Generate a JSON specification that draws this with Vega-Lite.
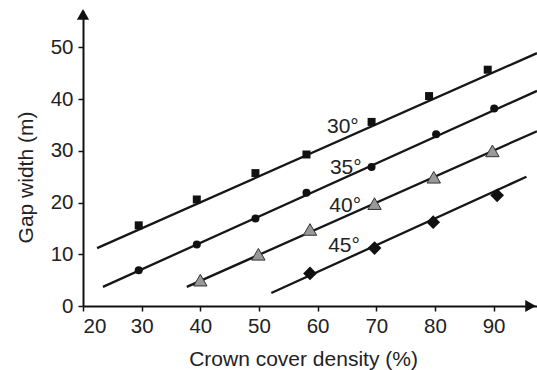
{
  "$schema": "https://vega.github.io/schema/vega-lite/v6.json",
  "width": 454,
  "height": 295,
  "autosize": {"type": "none"},
  "padding": {"left": 83, "top": 11, "right": 0, "bottom": 64},
  "background": "white",
  "config": {
    "view": {"stroke": null},
    "font": "Liberation Sans",
    "axis": {
      "grid": false,
      "domainColor": "#111",
      "domainWidth": 2,
      "tickColor": "#111",
      "tickWidth": 1.5,
      "tickSize": 5,
      "labelFontSize": 20.5,
      "labelColor": "#222",
      "labelFont": "Liberation Sans",
      "labelPadding": 5,
      "titleFont": "Liberation Sans",
      "titleFontSize": 21,
      "titleFontWeight": "normal",
      "titleColor": "#222"
    }
  },
  "datasets": {
    "pts": [
      {"angle": "30", "x": 29.5, "y": 15.6},
      {"angle": "30", "x": 39.4, "y": 20.6},
      {"angle": "30", "x": 49.4, "y": 25.7},
      {"angle": "30", "x": 58.1, "y": 29.3},
      {"angle": "30", "x": 69.2, "y": 35.6},
      {"angle": "30", "x": 79.0, "y": 40.6},
      {"angle": "30", "x": 89.0, "y": 45.7},
      {"angle": "35", "x": 29.5, "y": 6.9},
      {"angle": "35", "x": 39.4, "y": 11.9},
      {"angle": "35", "x": 49.4, "y": 16.9},
      {"angle": "35", "x": 58.1, "y": 21.9},
      {"angle": "35", "x": 69.2, "y": 26.9},
      {"angle": "35", "x": 80.2, "y": 33.2},
      {"angle": "35", "x": 90.1, "y": 38.2},
      {"angle": "40", "x": 40.0, "y": 5.0},
      {"angle": "40", "x": 49.9, "y": 10.0},
      {"angle": "40", "x": 58.7, "y": 14.8},
      {"angle": "40", "x": 69.7, "y": 19.8},
      {"angle": "40", "x": 79.8, "y": 24.9},
      {"angle": "40", "x": 89.8, "y": 30.0},
      {"angle": "45", "x": 58.7, "y": 6.3},
      {"angle": "45", "x": 69.7, "y": 11.2},
      {"angle": "45", "x": 79.7, "y": 16.2},
      {"angle": "45", "x": 90.6, "y": 21.4}
    ],
    "lines": [
      {"angle": "30", "x": 22.4, "y": 11.2, "x2": 97.4, "y2": 48.9},
      {"angle": "35", "x": 23.4, "y": 3.7, "x2": 97.4, "y2": 41.6},
      {"angle": "40", "x": 37.7, "y": 3.7, "x2": 97.4, "y2": 33.8},
      {"angle": "45", "x": 52.1, "y": 2.5, "x2": 95.6, "y2": 25.0}
    ],
    "labels": [
      {"label": "30°", "x": 64.3, "y": 33.4},
      {"label": "35°", "x": 64.8, "y": 25.6},
      {"label": "40°", "x": 64.7, "y": 18.1},
      {"label": "45°", "x": 64.5, "y": 10.4}
    ],
    "arrows": [
      {"dir": "right", "x": 96.3, "y": 0},
      {"dir": "up", "x": 20, "y": 56.4}
    ]
  },
  "layer": [
    {
      "data": {"name": "lines"},
      "mark": {"type": "rule", "color": "#161616", "strokeWidth": 2.3},
      "encoding": {
        "x": {
          "field": "x", "type": "quantitative",
          "scale": {"domain": [20, 97.4], "nice": false, "zero": false},
          "axis": {
            "values": [20, 30, 40, 50, 60, 70, 80, 90],
            "title": "Crown cover density (%)",
            "titleX": 220, "titleY": 59, "titleBaseline": "alphabetic", "titleAlign": "center",
            "labelPadding": 5
          }
        },
        "y": {
          "field": "y", "type": "quantitative",
          "scale": {"domain": [0, 57.05], "nice": false, "zero": false},
          "axis": {
            "values": [0, 10, 20, 30, 40, 50],
            "title": "Gap width (m)",
            "titleX": -51, "titleY": 166, "titleAngle": -90, "titleAlign": "center", "titleBaseline": "alphabetic"
          }
        },
        "x2": {"field": "x2"},
        "y2": {"field": "y2"}
      }
    },
    {
      "data": {"name": "pts"},
      "transform": [{"filter": "datum.angle === '30'"}],
      "mark": {"type": "point", "shape": "square", "filled": true, "color": "#111", "opacity": 1, "size": 64},
      "encoding": {
        "x": {"field": "x", "type": "quantitative"},
        "y": {"field": "y", "type": "quantitative"}
      }
    },
    {
      "data": {"name": "pts"},
      "transform": [{"filter": "datum.angle === '35'"}],
      "mark": {"type": "point", "shape": "circle", "filled": true, "color": "#111", "opacity": 1, "size": 64},
      "encoding": {
        "x": {"field": "x", "type": "quantitative"},
        "y": {"field": "y", "type": "quantitative"}
      }
    },
    {
      "data": {"name": "pts"},
      "transform": [{"filter": "datum.angle === '40'"}],
      "mark": {"type": "point", "shape": "triangle-up", "filled": true, "fill": "#999999", "stroke": "#333", "strokeWidth": 1, "opacity": 1, "size": 180},
      "encoding": {
        "x": {"field": "x", "type": "quantitative"},
        "y": {"field": "y", "type": "quantitative"}
      }
    },
    {
      "data": {"name": "pts"},
      "transform": [{"filter": "datum.angle === '45'"}],
      "mark": {"type": "point", "shape": "diamond", "filled": true, "color": "#111", "opacity": 1, "size": 190},
      "encoding": {
        "x": {"field": "x", "type": "quantitative"},
        "y": {"field": "y", "type": "quantitative"}
      }
    },
    {
      "data": {"name": "labels"},
      "mark": {"type": "text", "fontSize": 21, "font": "Liberation Sans", "color": "#222", "align": "center", "baseline": "alphabetic"},
      "encoding": {
        "x": {"field": "x", "type": "quantitative"},
        "y": {"field": "y", "type": "quantitative"},
        "text": {"field": "label"}
      }
    },
    {
      "data": {"name": "arrows"},
      "transform": [{"filter": "datum.dir === 'right'"}],
      "mark": {"type": "point", "shape": "triangle-right", "filled": true, "color": "#111", "opacity": 1, "size": 150},
      "encoding": {
        "x": {"field": "x", "type": "quantitative"},
        "y": {"field": "y", "type": "quantitative"}
      }
    },
    {
      "data": {"name": "arrows"},
      "transform": [{"filter": "datum.dir === 'up'"}],
      "mark": {"type": "point", "shape": "triangle-up", "filled": true, "color": "#111", "opacity": 1, "size": 150},
      "encoding": {
        "x": {"field": "x", "type": "quantitative"},
        "y": {"field": "y", "type": "quantitative"}
      }
    }
  ]
}
